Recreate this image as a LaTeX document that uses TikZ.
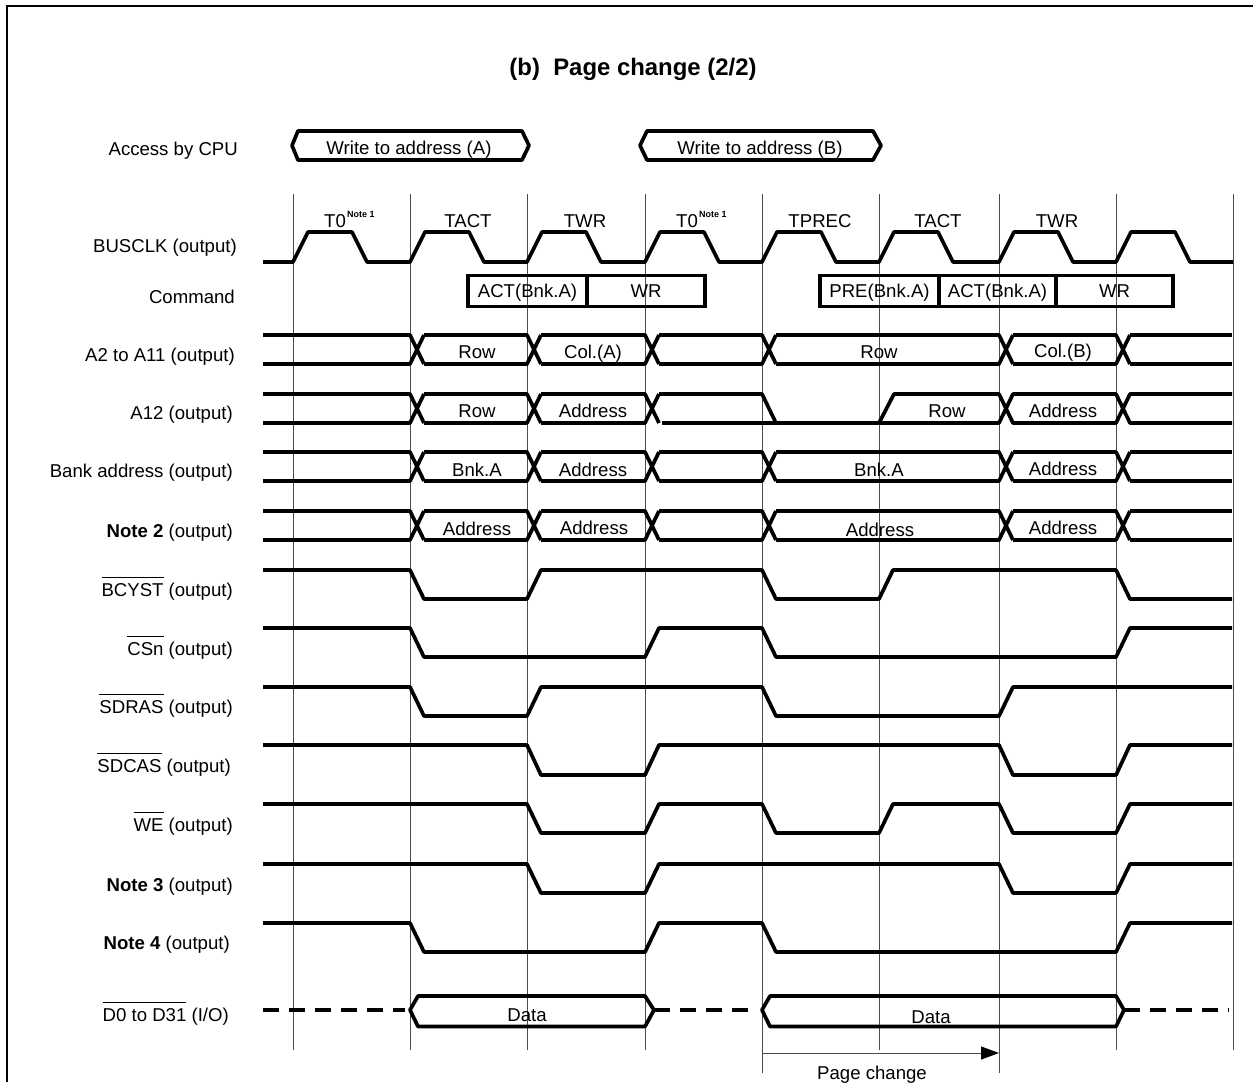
\documentclass[tikz,border=0pt]{standalone}
\usepackage{fontspec}
\setmainfont{Liberation Sans}
\usepackage{xcolor}
\definecolor{GridGray}{gray}{0.3}
\usetikzlibrary{arrows.meta}
\newcommand{\busrow}[2]{
    \foreach \xa/\xb in {263/410, 424/527, 541/645, 659/762, 776/999, 1013/1116} {
        \draw[sigline] (\xa,#1) -- (\xb,#1) -- (\xb+14,#2);
        \draw[sigline] (\xa,#2) -- (\xb,#2) -- (\xb+14,#1);
    }
    \draw[sigline] (1130,#1) -- (1232,#1);
    \draw[sigline] (1130,#2) -- (1232,#2);
}
\newcommand{\barred}[1]{$\overline{\mbox{\rule{0pt}{17pt}#1}}$}

\begin{document}
\begin{tikzpicture}[
    x=1pt, y=-1pt,
    font=\fontsize{18.6}{22}\selectfont,
    % Styles
    sigline/.style={line width=3.7pt, line join=round},
    dashline/.style={sigline, dash pattern=on 16pt off 10pt},
    gridline/.style={draw=GridGray, line width=1pt},
    rowlabel/.style={anchor=base east, inner sep=0pt},
    celltext/.style={inner sep=0pt, anchor=base},
    cmdbox/.style={draw, line width=3.7pt, inner sep=0pt, text height=12pt, text depth=0pt},
    notemark/.style={font=\fontsize{9}{10}\selectfont\bfseries, anchor=base west, inner sep=0pt}
]
    \useasboundingbox (0,0) rectangle (1253,1082);

    % 1. THE FRAME AND TITLE
    \draw[line width=2.3pt] (7,1082) -- (7,6) -- (1253,6);
    \node[celltext, font=\fontsize{23.9}{26}\selectfont\bfseries] (title) at (633,75) {(b)\ \ Page change (2/2)};

    % 2. THE CYCLE GRID
    \foreach \x in {293,410,527,645,879,1116,1233}
        \draw[gridline] (\x,194) -- (\x,1050);
    \foreach \x in {762,999}
        \draw[gridline] (\x,194) -- (\x,1073);

    % 3. ROW LABELS
    \node[rowlabel] (lblcpu) at (238,155) {Access by CPU};
    \node[rowlabel] (lblclk) at (237,252) {BUSCLK (output)};
    \node[rowlabel] (lblcmd) at (235,303) {Command};
    \node[rowlabel] (lbladdr) at (235,361) {A2 to A11 (output)};
    \node[rowlabel] (lbla12) at (233,419) {A12 (output)};
    \node[rowlabel] (lblbank) at (233,477) {Bank address (output)};
    \node[rowlabel] (lblnoteb) at (233,537) {\textbf{Note 2} (output)};
    \node[rowlabel] (lblbcyst) at (233,596) {\barred{BCYST} (output)};
    \node[rowlabel] (lblcsn) at (233,655) {\barred{CSn} (output)};
    \node[rowlabel] (lblras) at (233,713) {\barred{SDRAS} (output)};
    \node[rowlabel] (lblcas) at (231,772) {\barred{SDCAS} (output)};
    \node[rowlabel] (lblwe) at (233,831) {\barred{WE} (output)};
    \node[rowlabel] (lblnotec) at (233,891) {\textbf{Note 3} (output)};
    \node[rowlabel] (lblnoted) at (230,949) {\textbf{Note 4} (output)};
    \node[rowlabel] (lbldata) at (229,1021) {\barred{D0 to D31} (I/O)};

    % 4. CPU ACCESS
    \draw[sigline] (298,131) -- (522,131) -- (529,145.5) -- (522,160) -- (298,160) -- (292,145.5) -- cycle;
    \node[celltext] (cpua) at (409,154) {Write to address (A)};
    \draw[sigline] (647,131) -- (873,131) -- (881,145.5) -- (873,160) -- (647,160) -- (640,145.5) -- cycle;
    \node[celltext] (cpub) at (760,154) {Write to address (B)};

    % 5. BUSCLK
    \foreach \x in {293,410,527,645,762,879,999,1116}
        \draw[sigline] (\x-30,262) -- (\x,262) -- (\x+15,232) -- (\x+59,232) -- (\x+74,262) -- (\x+117,262);
    \node[celltext] (tzeroa) at (335,227) {T0};
    \node[notemark] (notea) at (347,217) {Note 1};
    \node[celltext] (tacta) at (468,227) {TACT};
    \node[celltext] (twra) at (585,227) {TWR};
    \node[celltext] (tzerob) at (687,227) {T0};
    \node[notemark] (noteb) at (699,217) {Note 1};
    \node[celltext] (tprec) at (820,227) {TPREC};
    \node[celltext] (tactb) at (938,227) {TACT};
    \node[celltext] (twrb) at (1057,227) {TWR};

    % 6. COMMAND BOXES
    \node[cmdbox, minimum width=119pt, minimum height=31pt] (acta) at (527.5,291) {ACT(Bnk.A)};
    \node[cmdbox, minimum width=118pt, minimum height=31pt] (wra) at (646,291) {WR};
    \node[cmdbox, minimum width=119pt, minimum height=31pt] (pre) at (879.5,291) {PRE(Bnk.A)};
    \node[cmdbox, minimum width=117pt, minimum height=31pt] (actb) at (997.5,291) {ACT(Bnk.A)};
    \node[cmdbox, minimum width=117pt, minimum height=31pt] (wrb) at (1114.5,291) {WR};

    % 7. ADDRESS BUSES
    \busrow{335}{364}
    \node[celltext] (rowa) at (477,358) {Row};
    \node[celltext] (cola) at (593,358) {Col.(A)};
    \node[celltext] (rowb) at (879,358) {Row};
    \node[celltext] (colb) at (1063,357) {Col.(B)};

    % A12 holds low across the page change
    \foreach \xa/\xb in {263/410, 424/527, 541/645} {
        \draw[sigline] (\xa,394) -- (\xb,394) -- (\xb+14,423);
        \draw[sigline] (\xa,423) -- (\xb,423) -- (\xb+14,394);
    }
    \draw[sigline] (659,394) -- (762,394) -- (776,423) -- (879,423) -- (894,394) -- (999,394) -- (1013,423) -- (1116,423) -- (1130,394) -- (1232,394);
    \draw[sigline] (662,423) -- (999,423) -- (1013,394) -- (1116,394) -- (1130,423) -- (1232,423);
    \node[celltext] (rowc) at (477,417) {Row};
    \node[celltext] (adra) at (593,417) {Address};
    \node[celltext] (rowd) at (947,417) {Row};
    \node[celltext] (adrb) at (1063,417) {Address};

    \busrow{452}{481}
    \node[celltext] (bnka) at (477,476) {Bnk.A};
    \node[celltext] (adrc) at (593,476) {Address};
    \node[celltext] (bnkb) at (879,476) {Bnk.A};
    \node[celltext] (adrd) at (1063,475) {Address};

    \busrow{511}{540}
    \node[celltext] (adre) at (477,535) {Address};
    \node[celltext] (adrf) at (594,534) {Address};
    \node[celltext] (adrg) at (880,536) {Address};
    \node[celltext] (adrh) at (1063,534) {Address};

    % 8. CONTROL LINES
    \draw[sigline] (263,570) -- (410,570) -- (424,599) -- (527,599) -- (541,570) -- (762,570) -- (776,599) -- (879,599) -- (893,570) -- (1116,570) -- (1130,599) -- (1232,599);
    \draw[sigline] (263,628) -- (410,628) -- (424,657) -- (645,657) -- (659,628) -- (762,628) -- (776,657) -- (1116,657) -- (1130,628) -- (1232,628);
    \draw[sigline] (263,687) -- (410,687) -- (424,716) -- (527,716) -- (541,687) -- (762,687) -- (776,716) -- (999,716) -- (1013,687) -- (1232,687);
    \draw[sigline] (263,745) -- (527,745) -- (541,775) -- (645,775) -- (659,745) -- (999,745) -- (1013,775) -- (1116,775) -- (1130,745) -- (1232,745);
    \draw[sigline] (263,804) -- (527,804) -- (541,833) -- (645,833) -- (659,804) -- (762,804) -- (776,833) -- (879,833) -- (893,804) -- (999,804) -- (1013,833) -- (1116,833) -- (1130,804) -- (1232,804);
    \draw[sigline] (263,864) -- (527,864) -- (541,893) -- (645,893) -- (659,864) -- (999,864) -- (1013,893) -- (1116,893) -- (1130,864) -- (1232,864);
    \draw[sigline] (263,923) -- (410,923) -- (424,952) -- (645,952) -- (659,923) -- (762,923) -- (776,952) -- (1116,952) -- (1130,923) -- (1232,923);

    % 9. DATA BUS
    \draw[dashline] (263,1010) -- (405,1010);
    \draw[sigline] (418,996) -- (645,996) -- (654,1010) -- (645,1026.5) -- (418,1026.5) -- (410,1010) -- cycle;
    \node[celltext] (dataa) at (527,1021) {Data};
    \draw[dashline] (654,1010) -- (757,1010);
    \draw[sigline] (770,996) -- (1116,996) -- (1124,1010) -- (1116,1026.5) -- (770,1026.5) -- (762,1010) -- cycle;
    \node[celltext] (datab) at (931,1023) {Data};
    \draw[dashline] (1124,1010) -- (1229,1010);

    % 10. PAGE CHANGE SPAN
    \coordinate (pagefrom) at (762,1053);
    \coordinate (pageto) at (999,1053);
    \draw[-{Triangle[length=18pt,width=13pt,black]}, gridline] (pagefrom) -- (pageto);
    \node[celltext] (pagechange) at (872,1079) {Page change};

\end{tikzpicture}
\end{document}
